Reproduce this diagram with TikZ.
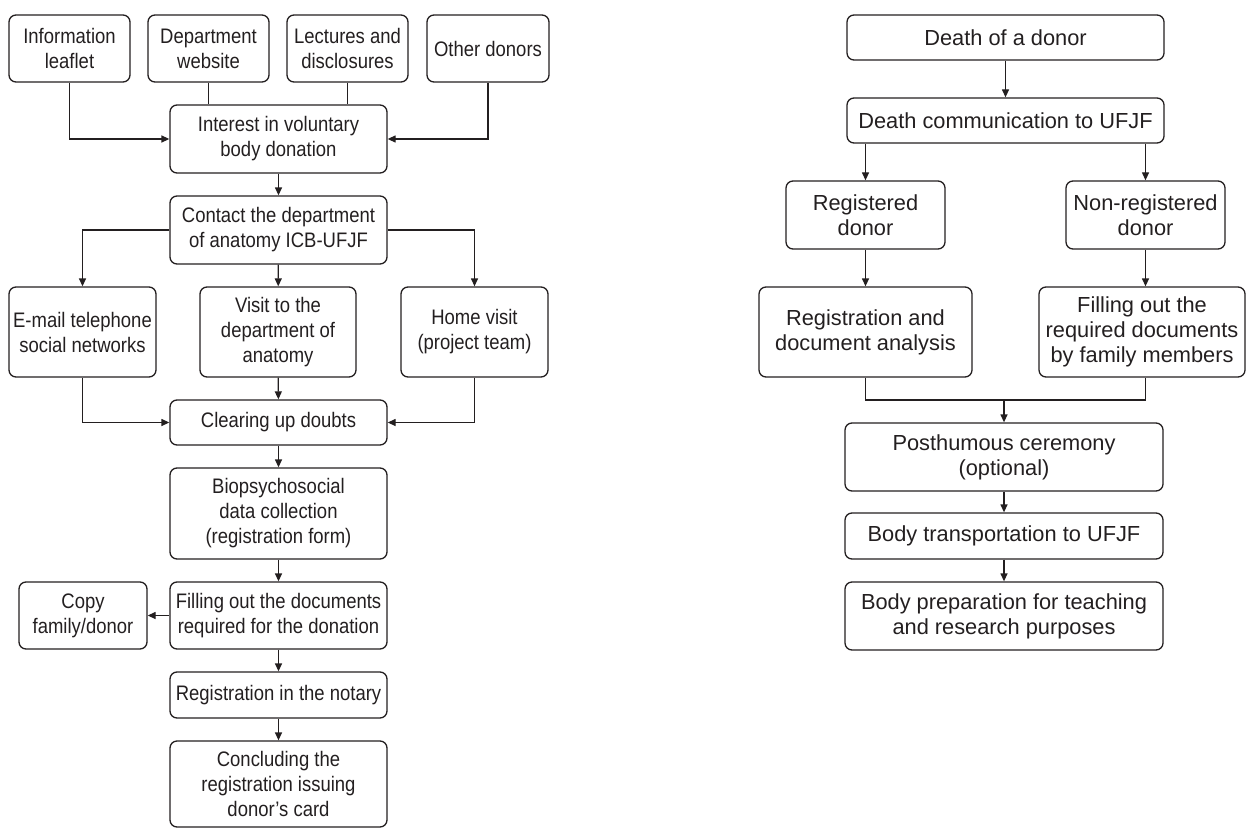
\documentclass[tikz,border=0pt]{standalone}
\usepackage{fontspec}
\setmainfont{Liberation Sans}
\newfontfamily\condfont[FakeStretch=0.88]{Liberation Sans}
\usetikzlibrary{arrows.meta}
\definecolor{ink}{HTML}{231F20}

\tikzset{
	box/.style={draw=ink, line width=1.3pt, rounded corners=7pt, align=center, inner sep=2pt, text=ink,
		font=\condfont\fontsize{21}{25}\selectfont},
	rbox/.style={box, font=\fontsize{21.8}{25}\selectfont},
	arr/.style={draw=ink, line width=1.3pt, -{Triangle[length=8pt,width=7pt]}},
	ln/.style={draw=ink, line width=1.3pt}
}

\begin{document}
\begin{tikzpicture}[x=1pt,y=-1pt]
		\useasboundingbox (0,0) rectangle (1246,829);
		
		% left part: sources
		\node[box, minimum width=121pt, minimum height=67pt] (leaflet) at (69.5,48.5) {Information\\leaflet};
		\node[box, minimum width=121pt, minimum height=67pt] (website) at (208.5,48.5) {Department\\website};
		\node[box, minimum width=121pt, minimum height=67pt] (lectures) at (347.5,48.5) {Lectures and\\disclosures};
		\node[box, minimum width=122pt, minimum height=67pt] (others) at (488,48.5) {Other donors};
		
		\node[box, minimum width=217pt, minimum height=68pt] (interest) at (278.5,139) {Interest in voluntary\\body donation};
		\node[box, minimum width=217pt, minimum height=68pt] (contact) at (278.5,230) {Contact the department\\of anatomy ICB-UFJF};
		
		\node[box, minimum width=147pt, minimum height=90pt] (email) at (82.5,332) {E-mail telephone\\social networks};
		\node[box, minimum width=156pt, minimum height=90pt] (visit) at (278,332) {Visit to the\\department of\\anatomy};
		\node[box, minimum width=147pt, minimum height=90pt] (home) at (474.5,332) {Home visit\\(project team)};
		
		\node[box, minimum width=217pt, minimum height=45pt] (doubts) at (278.5,422.5) {Clearing up doubts};
		\node[box, minimum width=217pt, minimum height=91pt] (biodata) at (278.5,513.5) {Biopsychosocial\\data collection\\(registration form)};
		\node[box, minimum width=217pt, minimum height=67pt] (filldocs) at (278.5,615.5) {Filling out the documents\\required for the donation};
		\node[box, minimum width=128pt, minimum height=67pt] (copy) at (83,615.5) {Copy\\family/donor};
		\node[box, minimum width=217pt, minimum height=46pt] (notary) at (278.5,695) {Registration in the notary};
		\node[box, minimum width=217pt, minimum height=86pt] (card) at (278.5,784) {Concluding the\\registration issuing\\donor’s card};
		
		\draw[arr] (leaflet) |- (interest);
		\draw[ln] (website.south) -- (website.south |- interest.north);
		\draw[ln] (lectures.south) -- (lectures.south |- interest.north);
		\draw[arr] (others) |- (interest);
		\draw[arr] (interest) -- (contact);
		\draw[arr] (contact) -| (email);
		\draw[arr] (contact) -- (visit);
		\draw[arr] (contact) -| (home);
		\draw[arr] (email) |- (doubts);
		\draw[arr] (visit) -- (doubts);
		\draw[arr] (home) |- (doubts);
		\draw[arr] (doubts) -- (biodata);
		\draw[arr] (biodata) -- (filldocs);
		\draw[arr] (filldocs) -- (copy);
		\draw[arr] (filldocs) -- (notary);
		\draw[arr] (notary) -- (card);
		
		% right part: death of a donor
		\node[rbox, minimum width=317pt, minimum height=45pt] (death) at (1005.5,37.5) {Death of a donor};
		\node[rbox, minimum width=317pt, minimum height=45pt] (notice) at (1005.5,120.5) {Death communication to UFJF};
		\node[rbox, minimum width=159pt, minimum height=68pt] (regd) at (865.5,215) {Registered\\donor};
		\node[rbox, minimum width=159pt, minimum height=68pt] (nonregd) at (1145.5,215) {Non-registered\\donor};
		\node[rbox, minimum width=213pt, minimum height=90pt] (analysis) at (865.5,332) {Registration and\\document analysis};
		\node[rbox, minimum width=206pt, minimum height=90pt] (famfill) at (1142,332) {Filling out the\\required documents\\by family members};
		\node[rbox, minimum width=318pt, minimum height=68pt] (ceremony) at (1004,457) {Posthumous ceremony\\(optional)};
		\node[rbox, minimum width=318pt, minimum height=46pt] (transport) at (1004,536) {Body transportation to UFJF};
		\node[rbox, minimum width=318pt, minimum height=68pt] (prep) at (1004,616) {Body preparation for teaching\\and research purposes};
		\coordinate (merge) at (1004,400);
		
		\draw[arr] (death) -- (notice);
		\draw[arr] (notice.south -| regd) -- (regd);
		\draw[arr] (notice.south -| nonregd) -- (nonregd);
		\draw[arr] (regd) -- (analysis);
		\draw[arr] (nonregd) -- (nonregd |- famfill.north);
		\draw[ln] (analysis) |- (merge) -| (nonregd |- famfill.south);
		\draw[arr] (merge) -- (ceremony);
		\draw[arr] (ceremony) -- (transport);
		\draw[arr] (transport) -- (prep);
\end{tikzpicture}
\end{document}
